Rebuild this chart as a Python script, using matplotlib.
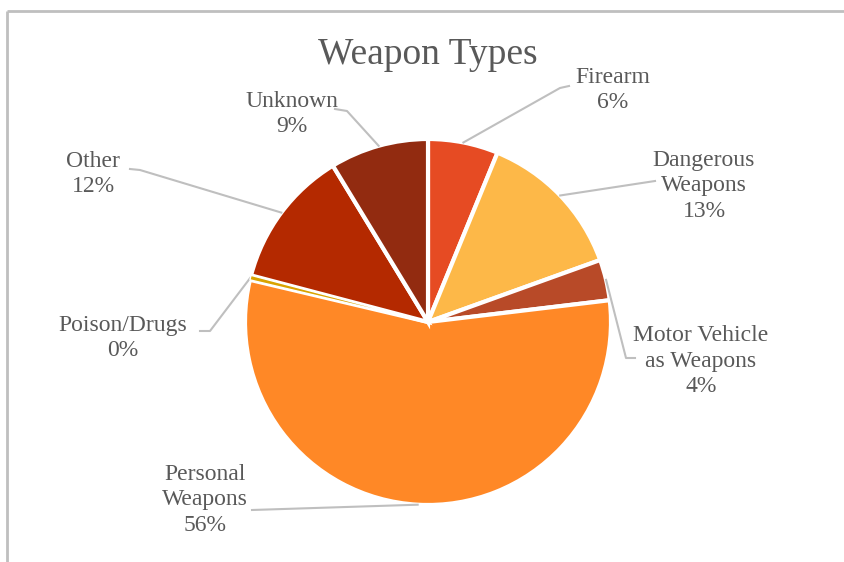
import numpy as np
import matplotlib.pyplot as plt

# slice data, clockwise from 12 o'clock
names = ['Firearm', 'Dangerous\nWeapons', 'Motor Vehicle\nas Weapons', 'Personal\nWeapons',
         'Poison/Drugs', 'Other', 'Unknown']
values = [6.2, 13.3, 3.6, 55.6, 0.4, 12.2, 8.7]
colors = ['#E64B23', '#FDB848', '#B84A28', '#FF8826', '#D9A300', '#B42900', '#922B10']

# label centre and leader line points (pixels, y from top)
label_pos = [(613, 90), (704, 186), (701, 361), (205, 500), (123, 338), (93, 174), (292, 114)]
leader_pts = [[(560, 88), (569, 86)], [(655, 181)], [(626, 358), (635, 358)], [(252, 510)],
              [(210, 331), (200, 331)], [(140, 170), (130, 169)], [(347, 111), (335, 109)]]

W, H = 844, 562
cx, cy, r = 428, 322, 183
txt_color = '#595959'
serif = ['Liberation Serif', 'DejaVu Serif']

fig = plt.figure(figsize=(W / 100, H / 100), dpi=100)
ax = fig.add_axes([0, 0, 1, 1])

wedges, _ = ax.pie(values, colors=colors, startangle=90, counterclock=False,
                   center=(cx, H - cy), radius=r,
                   wedgeprops=dict(edgecolor='white', linewidth=3))
# keep the tiny slice visible on top of its neighbours
wedges[4].set_linewidth(1)
wedges[4].set_zorder(5)
ax.set_aspect('auto')
ax.set_xlim(0, W)
ax.set_ylim(0, H)
ax.axis('off')

# chart frame (only top and left edges visible)
ax.plot([7, W], [H - 11, H - 11], color='#BFBFBF', lw=2, solid_capstyle='butt')
ax.plot([7, 7], [0, H - 11], color='#BFBFBF', lw=2, solid_capstyle='butt')

ax.text(428, H - 55, 'Weapon Types', ha='center', va='center', fontsize=27,
        color=txt_color, family=serif)

for w, name, v, (lx, ly), pts in zip(wedges, names, values, label_pos, leader_pts):
    ang = np.deg2rad((w.theta1 + w.theta2) / 2)
    sx = cx + r * np.cos(ang)
    sy = (H - cy) + r * np.sin(ang)
    xs = [sx] + [p[0] for p in pts]
    ys = [sy] + [H - p[1] for p in pts]
    ax.plot(xs, ys, color='#BFBFBF', lw=1.5)
    ax.text(lx, H - ly, f'{name}\n{round(v)}%', ha='center', va='center',
            fontsize=17, color=txt_color, family=serif, linespacing=1.27)

fig.savefig('out.png', dpi=100)
